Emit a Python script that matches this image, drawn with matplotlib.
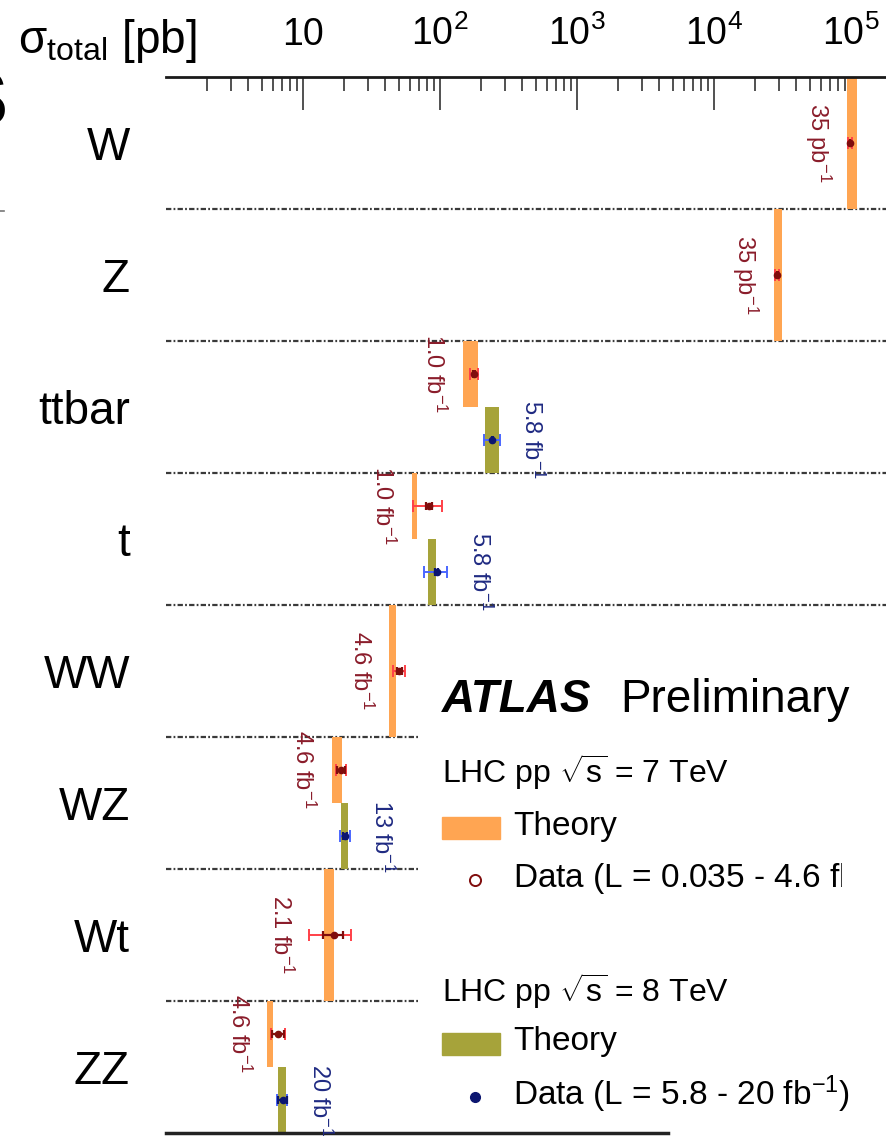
import numpy as np
import matplotlib
matplotlib.use('Agg')
import matplotlib.pyplot as plt
from matplotlib.lines import Line2D
from matplotlib.patches import Rectangle
from matplotlib.ticker import NullFormatter
from matplotlib.transforms import Bbox

plt.rcParams['font.family'] = ['Liberation Sans', 'DejaVu Sans']
plt.rcParams['mathtext.fontset'] = 'custom'
plt.rcParams['mathtext.rm'] = 'Liberation Sans'
plt.rcParams['mathtext.it'] = 'Liberation Sans:italic'
plt.rcParams['mathtext.bf'] = 'Liberation Sans:bold'

# cross sections in pb
processes = ['W', 'Z', 'ttbar', 't', 'WW', 'WZ', 'Wt', 'ZZ']

# 7 TeV
th7_lo = [9.4e4, 2.75e4, 147, 62.6, 42.6, 16.3, 14.3, 5.5]
th7_hi = [1.10e5, 3.12e4, 189, 67.5, 47.4, 19.3, 16.9, 6.05]
data7 = [9.8e4, 2.9e4, 177, 83, 50.5, 19.0, 16.8, 6.6]
tot7_lo = [3.0e3, 1.0e3, 11, 19, 4.8, 1.7, 5.7, 0.8]
tot7_hi = [3.0e3, 1.0e3, 11, 20, 4.8, 1.7, 5.7, 0.8]
stat7 = [300, 100, 3, 4, 2.0, 1.4, 2.9, 0.7]
lumi7 = ['35 pb$^{-1}$', '35 pb$^{-1}$', '1.0 fb$^{-1}$', '1.0 fb$^{-1}$',
         '4.6 fb$^{-1}$', '4.6 fb$^{-1}$', '2.1 fb$^{-1}$', '4.6 fb$^{-1}$']

# 8 TeV (nan = not measured)
nan = np.nan
th8_lo = [nan, nan, 212, 82, nan, 19.0, nan, 6.6]
th8_hi = [nan, nan, 270, 93, nan, 21.3, nan, 7.5]
data8 = [nan, nan, 241, 95.1, nan, 20.3, nan, 7.1]
tot8 = [nan, nan, 33, 18.1, nan, 1.6, nan, 0.6]
stat8 = [nan, nan, 2, 2.4, nan, 0.8, nan, 0.5]
lumi8 = ['', '', '5.8 fb$^{-1}$', '5.8 fb$^{-1}$', '', '13 fb$^{-1}$', '', '20 fb$^{-1}$']

ORANGE = '#ffa552'
OLIVE = '#a6a33a'
RED = '#ff4048'
DARKRED = '#800d0d'
BLUE = '#4a66ff'
NAVY = '#0c1670'
LBL7 = '#8a1c2a'
LBL8 = '#1f2a82'

W, H = 886, 1136
fig = plt.figure(figsize=(W / 100, H / 100), dpi=100)
ax = fig.add_axes([166 / W, 3 / H, 720 / W, 1056 / H])
ax.set_xscale('log')
ax.set_xlim(1, 10 ** (720 / 137))
ax.set_ylim(len(processes), 0)

for i in range(len(processes)):
    has8 = not np.isnan(data8[i])
    y7 = i + 0.25 if has8 else i + 0.5
    h7 = 0.5 if has8 else 1.0

    ax.barh(y7, th7_hi[i] - th7_lo[i], left=th7_lo[i], height=h7,
            color=ORANGE, zorder=2)
    ax.errorbar(data7[i], y7, xerr=[[tot7_lo[i]], [tot7_hi[i]]], fmt='none',
                ecolor=RED, elinewidth=1.4, capsize=4.3, capthick=1.4, zorder=3)
    ax.errorbar(data7[i], y7, xerr=stat7[i], fmt='o', color=DARKRED, ms=4.5,
                ecolor=DARKRED, elinewidth=1.6, capsize=3, capthick=1.6, zorder=4)
    left = min(th7_lo[i], data7[i] - tot7_lo[i])
    ax.annotate(lumi7[i], xy=(left, y7), xytext=(-29, 0), textcoords='offset pixels',
                rotation=-90, ha='center', va='center', fontsize=17, color=LBL7)

    if has8:
        y8 = i + 0.75
        ax.barh(y8, th8_hi[i] - th8_lo[i], left=th8_lo[i], height=0.5,
                color=OLIVE, zorder=2)
        ax.errorbar(data8[i], y8, xerr=tot8[i], fmt='none', ecolor=BLUE,
                    elinewidth=1.4, capsize=4.3, capthick=1.4, zorder=3)
        ax.errorbar(data8[i], y8, xerr=stat8[i], fmt='o', color=NAVY, ms=4.5,
                    ecolor=NAVY, elinewidth=1.6, capsize=3, capthick=1.6, zorder=4)
        right = max(th8_hi[i], data8[i] + tot8[i])
        ax.annotate(lumi8[i], xy=(right, y8), xytext=(32, 0), textcoords='offset pixels',
                    rotation=-90, ha='center', va='center', fontsize=17, color=LBL8)

# row separators (the lower ones stop at the legend)
for k in range(1, len(processes)):
    ax.axhline(k, xmax=1.0 if k <= 4 else 0.353, color='#3a3a3a', lw=1.6,
               ls=(0, (2.4, 1.0, 0.8, 1.0)), zorder=1)
ax.axhline(len(processes), xmax=0.697, color='#222222', lw=2.5, clip_on=False)

for s in ['left', 'right', 'bottom']:
    ax.spines[s].set_visible(False)
ax.spines['top'].set_linewidth(2.0)
ax.spines['top'].set_color('#1a1a1a')

ax.xaxis.set_ticks_position('top')
ax.set_xticks([10, 1e2, 1e3, 1e4, 1e5], ['10', '$10^2$', '$10^3$', '$10^4$', '$10^5$'])
minor = [m * 10 ** d for d in range(0, 5) for m in range(2, 10)]
ax.set_xticks(minor, minor=True)
ax.xaxis.set_minor_formatter(NullFormatter())
ax.tick_params(axis='x', which='major', direction='in', length=24, width=1.1,
               pad=17, labelsize=27, top=True, bottom=False, color='#222222')
ax.tick_params(axis='x', which='minor', direction='in', length=10, width=1.1,
               top=True, bottom=False, color='#222222')

ax.set_yticks(np.arange(len(processes)) + 0.5, processes)
ax.tick_params(axis='y', length=0, pad=26, labelsize=33)


def fy(ypx):
    return 1 - ypx / H


fig.text(18 / W, fy(53), r'$\mathrm{\sigma_{total}}$ [pb]', fontsize=33, va='baseline')

# legend
fig.text(442 / W, fy(712), 'ATLAS', fontsize=33, fontweight='bold', fontstyle='italic',
         va='baseline')
fig.text(620 / W, fy(712), 'Preliminary', fontsize=33, va='baseline')

fig.text(442 / W, fy(783), r'LHC pp $\sqrt{\mathrm{s}}$ = 7 TeV', fontsize=23, va='baseline')
fig.add_artist(Rectangle((442 / W, fy(839)), 58 / W, 22 / H, transform=fig.transFigure,
                         color=ORANGE))
fig.text(513 / W, fy(835), 'Theory', fontsize=24, va='baseline')
fig.add_artist(Line2D([475 / W], [fy(880)], marker='o', ms=8, mfc='white', mec=DARKRED,
                      mew=1.4, transform=fig.transFigure))
t7 = fig.text(513 / W, fy(888), 'Data (L = 0.035 - 4.6 fb$^{-1}$)', fontsize=24,
              va='baseline')
t7.set_clip_box(Bbox.from_extents(0, 0, 842, H))
t7.set_clip_on(True)

fig.text(442 / W, fy(1002), r'LHC pp $\sqrt{\mathrm{s}}$ = 8 TeV', fontsize=23, va='baseline')
fig.add_artist(Rectangle((442 / W, fy(1055)), 58 / W, 22 / H, transform=fig.transFigure,
                         color=OLIVE))
fig.text(513 / W, fy(1050), 'Theory', fontsize=24, va='baseline')
fig.add_artist(Line2D([475 / W], [fy(1097)], marker='o', ms=7, mfc=NAVY, mec=NAVY,
                      transform=fig.transFigure))
fig.text(513 / W, fy(1105), 'Data (L = 5.8 - 20 fb$^{-1}$)', fontsize=24, va='baseline')

# edge of the neighbouring page content
fig.text(8 / W, fy(125), 'S', fontsize=56, fontweight='bold', ha='right', va='baseline')
fig.add_artist(Line2D([0, 3.5 / W], [fy(211), fy(211)], color='#777777', lw=1.2))

fig.savefig('out.png', dpi=100)
